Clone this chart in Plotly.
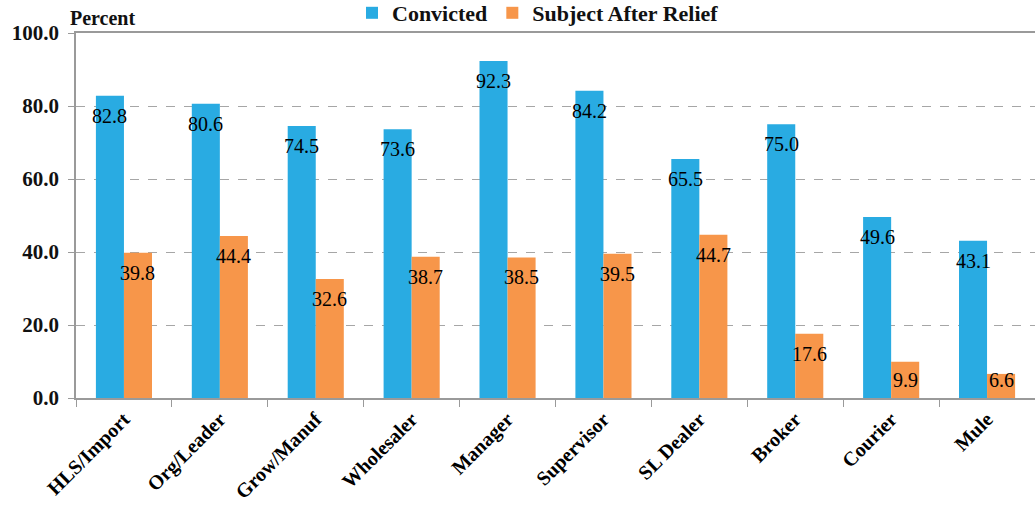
import plotly.graph_objects as go

categories = ["HLS/Import", "Org/Leader", "Grow/Manuf", "Wholesaler", "Manager",
              "Supervisor", "SL Dealer", "Broker", "Courier", "Mule"]
convicted = [82.8, 80.6, 74.5, 73.6, 92.3, 84.2, 65.5, 75.0, 49.6, 43.1]
relief = [39.8, 44.4, 32.6, 38.7, 38.5, 39.5, 44.7, 17.6, 9.9, 6.6]
y_ticks = [0, 20, 40, 60, 80, 100]

BLUE = "#29ABE2"
ORANGE = "#F7964A"
FONT = "Liberation Serif"
TXT = "#111111"

fig = go.Figure()
fig.add_trace(go.Bar(name="<b>Convicted</b>", x=categories, y=convicted,
                     marker=dict(color=BLUE, line=dict(width=0))))
fig.add_trace(go.Bar(name="<b>Subject After Relief</b>", x=categories, y=relief,
                     marker=dict(color=ORANGE, line=dict(width=0))))

px_per_unit = 365 / 100.0
annotations = []
for series, xs in ((convicted, -14), (relief, 14)):
    for c, v in zip(categories, series):
        shift = -min(20, v * px_per_unit - 18)
        annotations.append(dict(x=c, y=v, xref="x", yref="y", text=f"{v:.1f}",
                                showarrow=False, xshift=xs, yshift=shift,
                                yanchor="middle", xanchor="center",
                                font=dict(family=FONT, size=20, color="black")))
annotations.append(dict(x=-8 / 959, y=1 + (33 - 18) / 365, xref="paper", yref="paper",
                        text="<b>Percent</b>", showarrow=False,
                        xanchor="left", yanchor="middle",
                        font=dict(family=FONT, size=20, color=TXT)))

fig.update_layout(
    width=1035, height=510,
    margin=dict(l=76, r=0, t=33, b=112, autoexpand=False),
    paper_bgcolor="white", plot_bgcolor="white",
    barmode="group", bargap=0.415, bargroupgap=0,
    font=dict(family=FONT, color=TXT),
    legend=dict(orientation="h", x=(352 - 76) / 959, xanchor="left", y=1 + (33 - 13) / 365,
                yanchor="middle", font=dict(family=FONT, size=22, color=TXT),
                itemwidth=30, traceorder="normal", bgcolor="rgba(0,0,0,0)"),
    annotations=annotations,
    showlegend=True,
)
fig.update_xaxes(
    showline=True, linecolor="#9A9A9A", linewidth=1.5, mirror=True,
    ticks="outside", tickson="boundaries", ticklen=7, tickcolor="#9A9A9A",
    tickangle=-45, tickfont=dict(family=FONT, size=20, color="black"),
    showgrid=False, automargin=False,
    tickvals=categories, ticktext=[f"<b>{c}</b>" for c in categories],
)
fig.update_yaxes(
    range=[0, 100], tickvals=y_ticks, ticktext=[f"<b>{t:.1f}</b>" for t in y_ticks],
    showline=True, linecolor="#9A9A9A", linewidth=1.5,
    ticks="outside", ticklen=6, tickcolor="#9A9A9A", ticklabelstandoff=5,
    showgrid=True, gridcolor="#A6A6A6", griddash="dash", gridwidth=1,
    tickfont=dict(family=FONT, size=21, color=TXT),
    zeroline=False, automargin=False,
)

fig.write_html("out.html", config={"displayModeBar": False},
               post_script="document.body.style.margin='0';document.body.style.overflow='hidden';")
